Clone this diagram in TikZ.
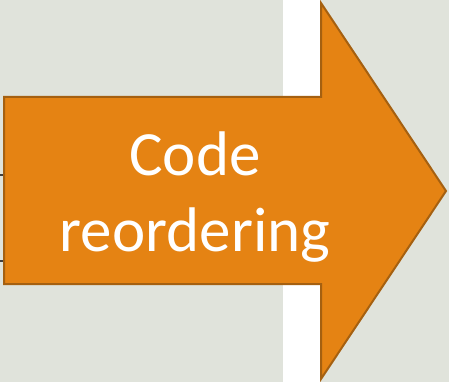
\documentclass[tikz,border=0pt]{standalone}
\usepackage{fontspec}
\setmainfont{Carlito}
\usetikzlibrary{positioning}
\definecolor{bggray}{RGB}{224,227,219}
\definecolor{arroworange}{RGB}{229,131,19}
\definecolor{arrowedge}{RGB}{165,96,16}
\definecolor{wiregray}{RGB}{64,64,64}

\begin{document}
\begin{tikzpicture}[x=1pt,y=-1pt]
    \useasboundingbox (0,0) rectangle (449,382);
    \fill[bggray] (0,0) rectangle (449,382);
    \fill[white] (283,0) rectangle (320,382);

    \coordinate (wire_a) at (0,175);
    \coordinate (wire_b) at (0,261);
    \coordinate (wire_a_end) at (4,175);
    \coordinate (wire_b_end) at (4,261);
    \draw[wiregray, line width=2pt] (wire_a) -- (wire_a_end);
    \draw[wiregray, line width=2pt] (wire_b) -- (wire_b_end);

    \draw[fill=arroworange, draw=arrowedge, line width=2pt, line join=miter]
        (4,97) -- (321,97) -- (321,3) -- (446,191) -- (321,379) -- (321,284) -- (4,284) -- cycle;

    \node[white, align=center, font=\fontsize{63}{76}\selectfont] (label) at (195,197) {Code\\reordering};

\end{tikzpicture}
\end{document}
